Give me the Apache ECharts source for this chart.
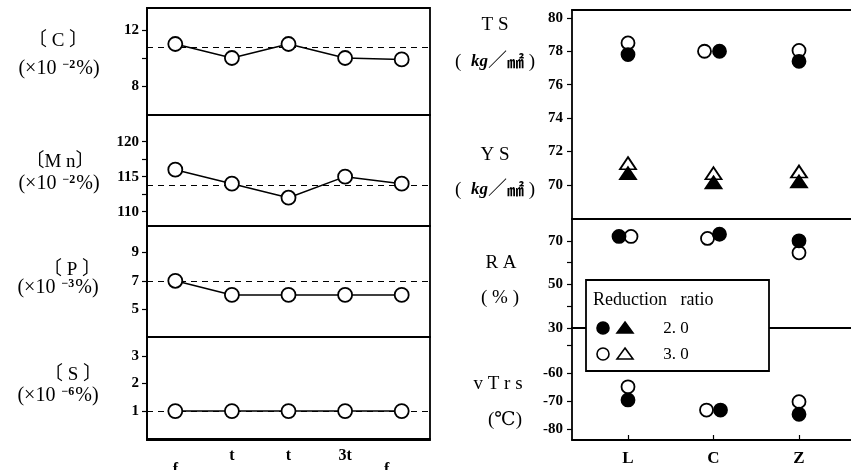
<!DOCTYPE html>
<html>
<head>
<meta charset="utf-8">
<script src="https://cdn.jsdelivr.net/npm/echarts@6/dist/echarts.min.js"></script>
<style>
html,body{margin:0;padding:0;background:#fff}
#chart{width:851px;height:470px}
</style>
</head>
<body>
<div id="chart"></div>
<script>
// LEFT: chemical composition along the ingot position
const posLabels=['f','t','t','3t','f'];
const cVals=[11,10,11,10,9.9];
const mnVals=[116,114,112,115,114];
const pVals=[7,6,6,6,6];
const sVals=[1,1,1,1,1];
const refLevels=[10.8,113.8,7,1];
const cTicks=[8,10,12], cTickLabels=[8,12];
const mnTicks=[110,112.5,115,117.5,120], mnTickLabels=[110,115,120];
const pTicks=[5,7,9], pTickLabels=[5,7,9];
const sTicks=[1,2,3], sTickLabels=[1,2,3];

// RIGHT: mechanical properties by direction, two reduction ratios
const dirLabels=['L','C','Z'];
const ts20=[77.8,78.0,77.4], ts30=[78.5,78.0,78.05];
const ys20=[70.7,70.15,70.2], ys30=[71.3,70.7,70.8];
const ra20=[72,73,70], ra30=[72,71.1,64.5];
const vt20=[-69.5,-73.1,-74.6], vt30=[-64.8,-73.1,-70.1];
const tsysTicks=[70,72,74,76,78,80];
const raTicks=[30,40,50,60,70], raTickLabels=[30,50,70];
const vtTicks=[-80,-70,-60,-50], vtTickLabels=[-80,-70,-60];
const ratioNames=['2. 0','3. 0'];

const FONT="'Liberation Serif','DejaVu Serif','Noto Sans CJK JP',serif";
const BLACK='#000';

const grids=[],xAxes=[],yAxes=[],series=[];

// left panels
const leftPanels=[
  {vals:cVals,ref:refLevels[0],top:8,h:107,min:5.93,max:13.57,ticks:cTicks,labels:cTickLabels},
  {vals:mnVals,ref:refLevels[1],top:115,h:111,min:107.96,max:123.8,ticks:mnTicks,labels:mnTickLabels},
  {vals:pVals,ref:refLevels[2],top:226,h:111,min:3.02,max:10.88,ticks:pTicks,labels:pTickLabels},
  {vals:sVals,ref:refLevels[3],top:337,h:103,min:-0.05,max:3.69,ticks:sTicks,labels:sTickLabels}
];
leftPanels.forEach((p,i)=>{
  const last=i===leftPanels.length-1;
  grids.push({left:147,top:p.top,width:283,height:p.h,outerBoundsMode:'none',containLabel:false,
    show:true,borderColor:BLACK,borderWidth:1.8});
  xAxes.push({type:'category',gridIndex:i,data:posLabels.map((_,k)=>String(k)),boundaryGap:true,
    axisLine:{lineStyle:{color:BLACK,width:1.8}},
    axisTick:{inside:true,alignWithLabel:true,length:5,lineStyle:{color:BLACK,width:1.2}},
    axisLabel:{show:last,interval:0,margin:8,color:BLACK,fontFamily:FONT,fontWeight:'bold',fontSize:16,
      formatter:(v,idx)=>idx===0?'{f|'+posLabels[idx]+'}':idx===4?'{g|'+posLabels[idx]+'}':posLabels[idx],
      rich:{
        f:{fontFamily:FONT,fontWeight:'bold',fontSize:16,color:BLACK,padding:[14,0,0,0]},
        g:{fontFamily:FONT,fontWeight:'bold',fontSize:16,color:BLACK,padding:[14,30,0,0]}
      }},
    splitLine:{show:false}});
  yAxes.push({type:'value',gridIndex:i,min:p.min,max:p.max,
    axisLine:{show:true,lineStyle:{color:BLACK,width:1.8}},
    axisTick:{show:true,length:5,customValues:p.ticks,lineStyle:{color:BLACK,width:1.2}},
    axisLabel:{customValues:p.labels,color:BLACK,fontFamily:FONT,fontWeight:'bold',fontSize:15,margin:8},
    splitLine:{show:false}});
  series.push({type:'line',xAxisIndex:i,yAxisIndex:i,data:p.vals,symbol:'circle',symbolSize:14,
    lineStyle:{color:BLACK,width:1.5},itemStyle:{color:'#fff',borderColor:BLACK,borderWidth:1.8},
    z:3,silent:true,
    markLine:{silent:true,symbol:'none',z:1,label:{show:false},
      lineStyle:{color:BLACK,type:[6,5],width:1.2},data:[{yAxis:p.ref}]}});
});

// right panels (open on the right side: only axis lines, no grid box)
const rightPanels=[
  {top:10,h:209,min:67.96,max:80.47,ticks:tsysTicks,labels:tsysTicks},
  {top:219,h:109,min:30,max:80,ticks:raTicks,labels:raTickLabels},
  {top:328,h:112,min:-83.8,max:-43.8,ticks:vtTicks,labels:vtTickLabels}
];
const xMin=0.345, xMax=0.345+285/85.5;
rightPanels.forEach((p,j)=>{
  const gi=4+j, last=j===rightPanels.length-1;
  grids.push({left:572,top:p.top,width:285,height:p.h,outerBoundsMode:'none',containLabel:false,show:false});
  xAxes.push({type:'value',gridIndex:gi,min:xMin,max:xMax,
    axisLine:{show:true,onZero:false,lineStyle:{color:BLACK,width:1.8}},
    axisTick:{show:last,inside:true,length:5,customValues:[1,2,3],lineStyle:{color:BLACK,width:1.2}},
    axisLabel:{show:last,customValues:[1,2,3],margin:10,color:BLACK,fontFamily:FONT,fontWeight:'bold',fontSize:17,
      formatter:v=>dirLabels[Math.round(v)-1]||''},
    splitLine:{show:false}});
  yAxes.push({type:'value',gridIndex:gi,min:p.min,max:p.max,
    axisLine:{show:true,onZero:false,lineStyle:{color:BLACK,width:1.8}},
    axisTick:{show:true,length:5,customValues:p.ticks,lineStyle:{color:BLACK,width:1.2}},
    axisLabel:{customValues:p.labels,color:BLACK,fontFamily:FONT,fontWeight:'bold',fontSize:15,margin:9},
    splitLine:{show:false}});
});
// top edge of the right block
xAxes.push({type:'value',gridIndex:4,position:'top',min:xMin,max:xMax,
  axisLine:{show:true,onZero:false,lineStyle:{color:BLACK,width:1.8}},
  axisTick:{show:false},axisLabel:{show:false},splitLine:{show:false}});

function pts(vals,offs){
  return vals.map((v,i)=>({value:[i+1,v],symbolOffset:[offs[i],0]}));
}
function scatter(gi,vals,offs,filled,shape,z){
  return {type:'scatter',xAxisIndex:gi,yAxisIndex:gi,data:pts(vals,offs),symbol:shape,
    symbolSize:shape==='triangle'?[16,12]:13,silent:true,z:z,
    itemStyle:{color:filled?BLACK:'#fff',borderColor:BLACK,borderWidth:1.8,opacity:1}};
}
series.push(
  scatter(4,ts30,[0,-9,0],false,'circle',3),
  scatter(4,ts20,[0,6,0],true,'circle',4),
  scatter(4,ys30,[0,0,0],false,'triangle',3),
  scatter(4,ys20,[0,0,0],true,'triangle',4),
  scatter(5,ra30,[3,-6,0],false,'circle',3),
  scatter(5,ra20,[-9,6,0],true,'circle',4),
  scatter(6,vt30,[0,-7,0],false,'circle',3),
  scatter(6,vt20,[0,7,0],true,'circle',4)
);

// side titles
function txt(x,y,text,size,rich,align){
  return {type:'text',z:50,silent:true,style:{x:x,y:y,text:text,fill:BLACK,
    font:size+'px '+FONT,textAlign:align||'center',textVerticalAlign:'middle',
    align:align||'center',verticalAlign:'middle',rich:rich||{}}};
}
const supRich={s:{fontFamily:FONT,fontSize:12,fontWeight:'bold',verticalAlign:'top',padding:[0,1,6,1]}};
const leftNames=[['〔 C 〕','(×10 {s|−2}%)'],['〔M n〕','(×10 {s|−2}%)'],['〔 P 〕','(×10 {s|−3}%)'],['〔 S 〕','(×10 {s|−6}%)']];
const leftNamePos=[[58,41,59,69],[60,162,59,184],[72,270,58,288],[73,375,58,396]];
const graphics=[];
leftNames.forEach((n,i)=>{
  const q=leftNamePos[i];
  graphics.push(txt(q[0],q[1],n[0],19),txt(q[2],q[3],n[1],20,supRich));
});
const unitRich={
  i:{fontStyle:'italic',fontFamily:FONT,fontSize:17,fontWeight:'bold'},
  m:{fontFamily:"'Noto Sans CJK JP'",fontSize:17,fontWeight:'bold'}
};
const rightNames=['T S','(  {i|kg}／{m|㎟} )','Y S','(  {i|kg}／{m|㎟} )','R A','( % )','v T r s','(℃)'];
const rightNamePos=[[495,25],[495,62],[495,155],[495,190],[501,263],[500,298],[498,384],[505,420]];
rightNames.forEach((n,i)=>{
  graphics.push(txt(rightNamePos[i][0],rightNamePos[i][1],n,19,unitRich));
});

// legend box
graphics.push({type:'rect',z:60,silent:true,shape:{x:586,y:280,width:183,height:91},
  style:{fill:'#fff',stroke:BLACK,lineWidth:1.8}});
const lg=txt(593,300,'Reduction   ratio',18,null,'left'); lg.z=61; graphics.push(lg);
[[328,true],[354,false]].forEach((r,k)=>{
  const y=r[0],fill=r[1]?BLACK:'#fff';
  graphics.push({type:'circle',z:61,silent:true,shape:{cx:603,cy:y,r:6},style:{fill:fill,stroke:BLACK,lineWidth:1.6}});
  graphics.push({type:'polygon',z:61,silent:true,shape:{points:[[625,y-6],[633,y+5],[617,y+5]]},style:{fill:fill,stroke:BLACK,lineWidth:1.6}});
  const t=txt(676,y+1,ratioNames[k],17); t.z=61; graphics.push(t);
});

const chart=echarts.init(document.getElementById('chart'),null,{renderer:'canvas'});
chart.setOption({
  animation:false,
  backgroundColor:'#fff',
  grid:grids,
  xAxis:xAxes,
  yAxis:yAxes,
  series:series,
  graphic:graphics
});
</script>
</body>
</html>
